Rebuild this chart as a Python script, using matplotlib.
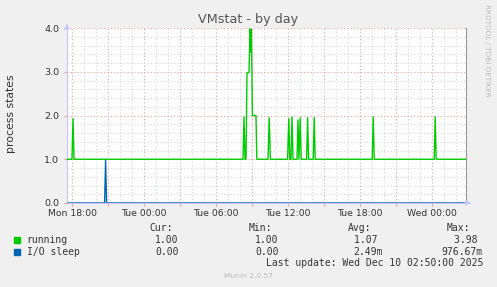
import matplotlib
matplotlib.use("Agg")
import matplotlib.pyplot as plt
from matplotlib.patches import Rectangle
from matplotlib.ticker import MultipleLocator, FixedLocator

# ---- data (time in minutes since Mon 18:00, 5-minute samples) ----
running_t = [-25, 0, 5, 10,
             855, 860, 865, 870, 875, 885, 890, 893, 897, 902, 920, 924,
             980, 986, 992,
             1078, 1084, 1089, 1095, 1100, 1105,
             1125, 1130, 1135, 1141, 1146,
             1173, 1178, 1183,
             1206, 1211, 1216,
             1501, 1506, 1511,
             1811, 1816, 1821,
             1970]
running_v = [1.0, 1.0, 1.93, 1.0,
             1.0, 1.97, 1.0, 1.0, 2.98, 2.98, 3.98, 3.45, 3.96, 2.0, 2.0, 1.0,
             1.0, 1.95, 1.0,
             1.0, 1.93, 1.0, 1.0, 1.97, 1.0,
             1.0, 1.90, 1.0, 1.95, 1.0,
             1.0, 1.95, 1.0,
             1.0, 1.95, 1.0,
             1.0, 1.97, 1.0,
             1.0, 1.97, 1.0,
             1.0]
iosleep_t = [-25, 163, 168, 173, 1970]
iosleep_v = [0.0, 0.0, 0.977, 0.0, 0.0]

xtick_pos = [0, 360, 720, 1080, 1440, 1800]
xtick_labels = ["Mon 18:00", "Tue 00:00", "Tue 06:00", "Tue 12:00", "Tue 18:00", "Wed 00:00"]
ytick_pos = [0.0, 1.0, 2.0, 3.0, 4.0]

series_names = ["running", "I/O sleep"]
series_colors = ["#00CC00", "#0066B3"]
cur_vals = ["1.00", "0.00"]
min_vals = ["1.00", "0.00"]
avg_vals = ["1.07 ", "2.49m"]
max_vals = ["3.98 ", "976.67m"]

W, H = 497, 287
fig = plt.figure(figsize=(W / 100, H / 100), dpi=100, facecolor="#F0F0F0")

def fx(x):
    return x / W

def fy(y):
    return 1 - y / H

ax = fig.add_axes([fx(67), fy(203), (466 - 67) / W, (203 - 28) / H])
ax.set_facecolor("white")
ax.set_xlim(-25, 1970)
ax.set_ylim(0, 4.0)

ax.set_xticks(list(range(0, 1970, 180)))
labs = []
for v in range(0, 1970, 180):
    labs.append(xtick_labels[xtick_pos.index(v)] if v in xtick_pos else "")
ax.set_xticklabels(labs)
ax.xaxis.set_minor_locator(MultipleLocator(60))
ax.set_yticks(ytick_pos)
ax.set_yticklabels([f"{v:.1f}" for v in ytick_pos])
ax.yaxis.set_minor_locator(MultipleLocator(0.2))

ax.grid(which="minor", color="#D4D4D4", linestyle=(0, (1, 2)), linewidth=0.8)
ax.grid(which="major", color="#E6A0A0", linestyle=(0, (1, 2)), linewidth=0.8)
ax.set_axisbelow(True)

ax.tick_params(axis="x", which="major", length=2.5, color="#E6A0A0", pad=1.5,
               labelsize=6.7, labelcolor="#333333")
ax.tick_params(axis="y", which="major", length=2, color="#E6A0A0", pad=3.5,
               labelsize=6.8, labelcolor="#333333")
ax.tick_params(which="minor", length=0)

ax.spines["top"].set_visible(False)
ax.spines["right"].set_color("#999999")
ax.spines["right"].set_linewidth(0.8)
ax.spines["left"].set_color("#C8C8F0")
ax.spines["bottom"].set_color("#C8C8F0")

ax.plot(running_t, running_v, color=series_colors[0], lw=1.0, zorder=3)
ax.plot(iosleep_t, iosleep_v, color=series_colors[1], lw=1.0, zorder=3)

# axis arrows
arrow_col = "#C8C8F8"
ax.annotate("", xy=(67, H - 21), xytext=(67, H - 28), xycoords="figure pixels",
            arrowprops=dict(arrowstyle="-|>", color=arrow_col, lw=1, mutation_scale=7))
ax.annotate("", xy=(474, H - 203), xytext=(466, H - 203), xycoords="figure pixels",
            arrowprops=dict(arrowstyle="-|>", color=arrow_col, lw=1, mutation_scale=7))

# titles
fig.text(fx(248), fy(19), "VMstat - by day", ha="center", va="center",
         fontsize=9.2, color="#555555")
fig.text(fx(11), fy(114), "process states", ha="center", va="center",
         rotation=90, fontsize=7.8, color="#333333")
fig.text(fx(487), fy(4), "RRDTOOL / TOBI OETIKER", ha="center", va="top",
         rotation=270, fontsize=5.2, color="#BBBBBB")

mono = dict(family="DejaVu Sans Mono", fontsize=7.05, color="#333333", va="center")
fig.text(fx(149), fy(227.7), "Cur:", ha="left", **mono)
fig.text(fx(249), fy(227.7), "Min:", ha="left", **mono)
fig.text(fx(348), fy(227.7), "Avg:", ha="left", **mono)
fig.text(fx(446.7), fy(227.7), "Max:", ha="left", **mono)

rows_y = [240, 251.7]
for i, name in enumerate(series_names):
    y = rows_y[i]
    fig.patches.append(Rectangle((fx(14), fy(y + 3)), 6 / W, 6 / H,
                                 transform=fig.transFigure, color=series_colors[i]))
    fig.text(fx(26.7), fy(y), name, ha="left", **mono)
    fig.text(fx(178.5), fy(y), cur_vals[i], ha="right", **mono)
    fig.text(fx(278.5), fy(y), min_vals[i], ha="right", **mono)
    fig.text(fx(383), fy(y), avg_vals[i], ha="right", **mono)
    fig.text(fx(483), fy(y), max_vals[i], ha="right", **mono)

fig.text(fx(483), fy(263.3), "Last update: Wed Dec 10 02:50:00 2025", ha="right", **mono)
fig.text(fx(248), fy(276), "Munin 2.0.57", ha="center", va="center",
         fontsize=5.4, color="#BBBBBB")

fig.savefig("out.png", dpi=100, facecolor=fig.get_facecolor())
